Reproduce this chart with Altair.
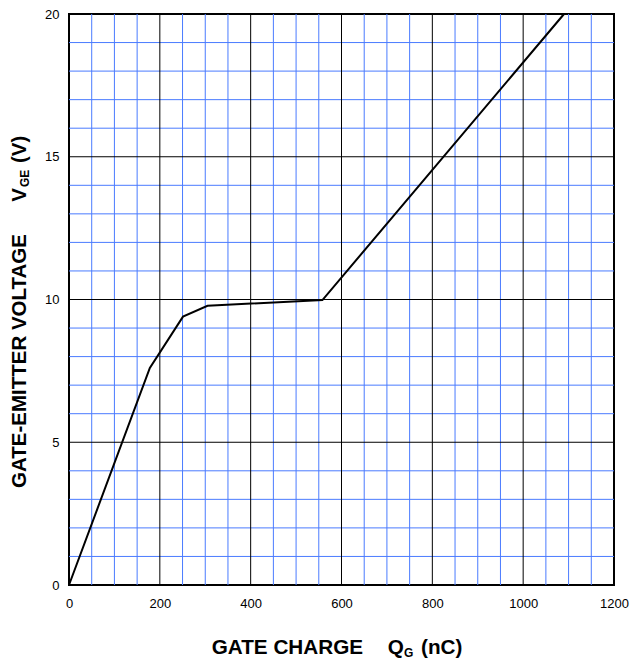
import altair as alt
import pandas as pd

# curve
charge_nc = [0, 178, 251, 305, 558, 1090]
vge_v = [0, 7.6, 9.4, 9.78, 9.98, 20]

# axis ticks / grid
x_major = [200, 400, 600, 800, 1000]
x_minor = [50, 100, 150, 250, 300, 350, 450, 500, 550, 650, 700, 750,
           850, 900, 950, 1050, 1100, 1150]
y_major = [5, 10, 15]
y_minor = [1, 2, 3, 4, 6, 7, 8, 9, 11, 12, 13, 14, 16, 17, 18, 19]
x_ticks = [0, 200, 400, 600, 800, 1000, 1200]
y_ticks = [0, 5, 10, 15, 20]

FONT = "Liberation Sans"
W, H = 545, 571

xs = alt.Scale(domain=[0, 1200], nice=False, zero=False)
ys = alt.Scale(domain=[0, 20], nice=False, zero=False)

xaxis = alt.Axis(values=x_ticks, grid=False, ticks=False, domain=False, format="d",
                 labelFont=FONT, labelFontSize=13, labelColor="black",
                 labelPadding=12, title=None, labelFlush=False)
yaxis = alt.Axis(values=y_ticks, grid=False, ticks=False, domain=False, format="d",
                 labelFont=FONT, labelFontSize=13, labelColor="black",
                 labelPadding=10, title=None, labelFlush=False)

line_df = pd.DataFrame({"q": charge_nc, "v": vge_v})

vminor = alt.Chart(pd.DataFrame({"x": x_minor})).mark_rule(
    color="#4a7bff", strokeWidth=1).encode(x=alt.X("x:Q", scale=xs, axis=xaxis))
hminor = alt.Chart(pd.DataFrame({"y": y_minor})).mark_rule(
    color="#4a7bff", strokeWidth=1).encode(y=alt.Y("y:Q", scale=ys, axis=yaxis))
vmajor = alt.Chart(pd.DataFrame({"x": x_major})).mark_rule(
    color="black", strokeWidth=1).encode(x=alt.X("x:Q", scale=xs))
hmajor = alt.Chart(pd.DataFrame({"y": y_major})).mark_rule(
    color="black", strokeWidth=1).encode(y=alt.Y("y:Q", scale=ys))

curve = alt.Chart(line_df).mark_line(color="black", strokeWidth=2).encode(
    x=alt.X("q:Q", scale=xs), y=alt.Y("v:Q", scale=ys))

def txt(s, x, y, size=20.7, angle=0, bold=True):
    return alt.Chart(pd.DataFrame({"t": [s]})).mark_text(
        font=FONT, fontSize=size, fontWeight="bold" if bold else "normal",
        align="left", baseline="alphabetic", angle=angle, color="black"
    ).encode(text="t:N", x=alt.value(x), y=alt.value(y))

titles = [
    txt("GATE CHARGE", 142.7, 640),
    txt("Q", 318.7, 640),
    txt("G", 335, 643, size=12),
    txt("(nC)", 352, 640),
    txt("GATE-EMITTER VOLTAGE", -43, 474, size=20.5, angle=270),
    txt("V", -43, 187.7, size=20.5, angle=270),
    txt("GE", -40, 173, size=12, angle=270),
    txt("(V)", -43, 149, size=20.5, angle=270),
]

chart = alt.layer(vminor, hminor, vmajor, hmajor, curve, *titles).properties(
    width=W, height=H,
    autosize=alt.AutoSizeParams(type="none"),
    padding={"left": 69, "top": 14, "right": 16, "bottom": 74},
).configure_view(stroke="black", strokeWidth=2).resolve_scale(x="shared", y="shared")

chart.save("out.html", embed_options={"renderer": "svg", "actions": False})
